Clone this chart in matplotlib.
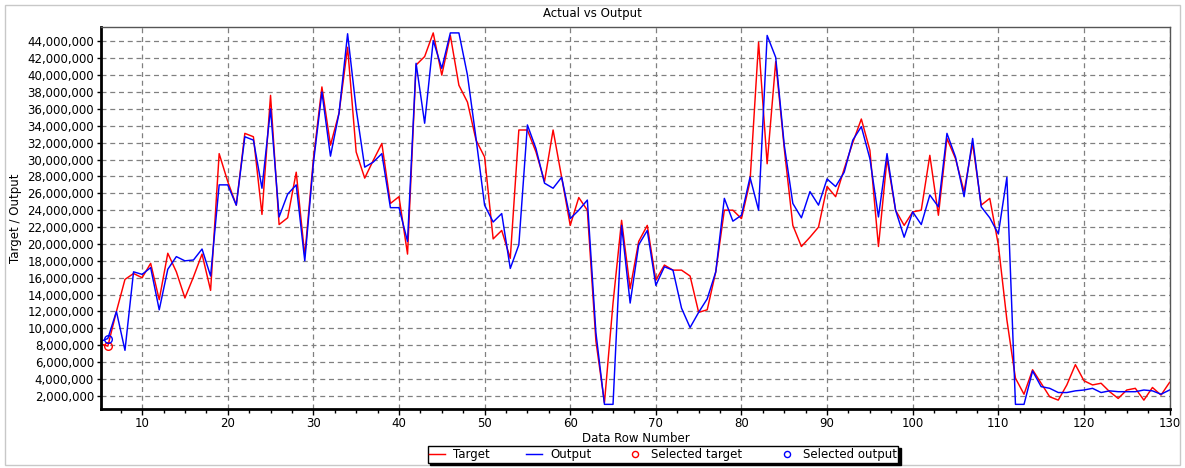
import numpy as np
import matplotlib.pyplot as plt
from matplotlib.ticker import FuncFormatter, MultipleLocator
from matplotlib.patches import Rectangle

# data rows shown on the chart
rows = list(range(5, 131))

# target and network output, in millions
target_m = [
    8.2, 7.9, 12.0, 15.8, 16.5, 16.0, 17.7, 13.4, 18.9, 16.7,
    13.6, 16.1, 18.8, 14.5, 30.7, 27.4, 24.6, 33.1, 32.7, 23.5,
    37.6, 22.3, 23.1, 28.5, 18.6, 30.0, 38.6, 31.7, 35.5, 43.3,
    30.9, 27.8, 29.9, 31.9, 24.8, 25.6, 18.8, 41.2, 42.2, 45.0,
    40.0, 44.7, 38.8, 36.8, 32.3, 30.3, 20.6, 21.6, 18.3, 33.5,
    33.5, 30.9, 27.4, 33.5, 27.9, 22.2, 25.5, 24.0, 8.5, 1.2,
    13.0, 22.8, 14.7, 20.3, 22.2, 15.7, 17.5, 16.9, 16.9, 16.2,
    11.9, 12.2, 16.7, 24.0, 24.0, 23.0, 27.4, 43.9, 29.5, 41.6,
    31.3, 22.2, 19.7, 20.8, 22.0, 26.8, 25.6, 28.9, 32.0, 34.8,
    31.1, 19.7, 30.1, 24.0, 22.2, 23.8, 24.0, 30.5, 23.4, 32.5,
    30.1, 26.2, 31.9, 24.6, 25.4, 19.9, 11.0, 4.1, 2.2, 5.1,
    3.5, 1.9, 1.5, 3.3, 5.7, 3.8, 3.3, 3.5, 2.5, 1.7,
    2.7, 2.9, 1.5, 3.0, 2.1, 3.6,
]
output_m = [
    8.4, 8.8, 12.0, 7.4, 16.7, 16.4, 17.2, 12.2, 17.0, 18.5,
    18.0, 18.1, 19.4, 16.2, 27.0, 27.0, 24.6, 32.7, 32.3, 26.6,
    36.0, 23.2, 25.9, 27.0, 18.0, 29.5, 38.0, 30.4, 35.5, 44.9,
    36.0, 29.1, 29.7, 30.7, 24.3, 24.3, 20.3, 41.4, 34.3, 44.1,
    40.8, 45.0, 45.0, 40.0, 32.5, 24.6, 22.6, 23.6, 17.1, 19.9,
    34.1, 31.3, 27.2, 26.6, 27.9, 23.0, 24.0, 25.2, 9.5, 1.0,
    1.0, 22.2, 13.0, 19.9, 21.6, 15.1, 17.3, 16.9, 12.4, 10.1,
    11.9, 13.5, 16.7, 25.4, 22.7, 23.4, 27.9, 24.0, 44.7, 42.1,
    31.7, 24.8, 23.1, 26.2, 24.6, 27.7, 26.8, 28.5, 32.3, 33.9,
    30.1, 23.2, 30.7, 24.0, 20.8, 23.8, 22.3, 25.8, 24.4, 33.1,
    30.3, 25.6, 32.5, 24.4, 23.1, 21.2, 27.9, 1.0, 1.0, 4.95,
    3.1, 2.9, 2.4, 2.4, 2.6, 2.7, 2.9, 2.4, 2.6, 2.5,
    2.5, 2.5, 2.7, 2.6, 2.2, 2.7,
]

# rows currently selected
selected_rows = [6]

target = np.array(target_m) * 1e6
output = np.array(output_m) * 1e6
sel_idx = [rows.index(r) for r in selected_rows]

plt.rcParams['font.family'] = 'DejaVu Sans'
fs = 8.5

fig = plt.figure(figsize=(11.85, 4.68), dpi=100)
ax = fig.add_axes([101 / 1185, 1 - 409 / 468, 1069 / 1185, 382 / 468])

ax.plot(rows, target, color='#ff0000', lw=1.05, label='Target')
ax.plot(rows, output, color='#0000ff', lw=1.05, label='Output')
ax.plot(selected_rows, target[sel_idx], ls='none', marker='o', ms=5.5,
        mfc='none', mec='#ff0000', mew=1.0, label='Selected target')
ax.plot(selected_rows, output[sel_idx], ls='none', marker='o', ms=5.5,
        mfc='none', mec='#0000ff', mew=1.0, label='Selected output')

ax.set_xlim(5.2, 130.05)
ax.set_ylim(0.45e6, 45.7e6)

ax.xaxis.set_major_locator(MultipleLocator(10))
ax.xaxis.set_minor_locator(MultipleLocator(2.5))
ax.yaxis.set_major_locator(MultipleLocator(2e6))
ax.yaxis.set_major_formatter(FuncFormatter(lambda v, p: '{:,.0f}'.format(v)))

ax.grid(True, which='major', ls=(0, (4, 3)), color='#808080', lw=0.9)
ax.tick_params(axis='both', which='major', labelsize=fs, length=4, width=1,
               pad=2)
ax.tick_params(axis='x', which='minor', length=3, width=1)
ax.tick_params(axis='y', which='major', length=3)

for side in ['left', 'bottom']:
    ax.spines[side].set_linewidth(2)
    ax.spines[side].set_color('black')
for side in ['top', 'right']:
    ax.spines[side].set_linewidth(1)
    ax.spines[side].set_color('#555555')

ax.set_xlabel('Data Row Number', fontsize=fs, labelpad=1)
ax.set_ylabel('Target / Output', fontsize=fs, labelpad=4)
fig.text(0.5, 1 - 14 / 468, 'Actual vs Output', fontsize=fs,
         ha='center', va='center')

# light frame round the whole chart
fig.patches.append(Rectangle((5 / 1185, 3 / 468), 1175 / 1185, 460 / 468,
                             transform=fig.transFigure, fill=False,
                             edgecolor='#c8c8c8', lw=1))

leg = fig.legend(loc='center', bbox_to_anchor=(663 / 1185, 1 - 454.5 / 468),
                 ncol=4, fontsize=fs, frameon=True, fancybox=False,
                 edgecolor='black', framealpha=1, markerscale=0.8,
                 shadow={'color': 'black', 'alpha': 1, 'ox': 1.5, 'oy': -1.5},
                 borderpad=0.15, handlelength=1.3, handletextpad=0.7,
                 columnspacing=3.1, borderaxespad=0)

fig.savefig('out.png', dpi=100)
